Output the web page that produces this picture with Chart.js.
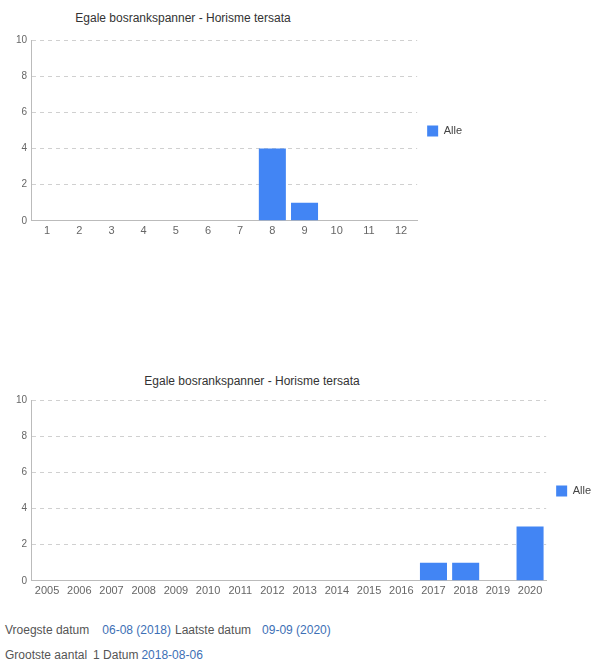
<!DOCTYPE html>
<html>
<head>
<meta charset="utf-8">
<script src="https://cdn.jsdelivr.net/npm/chart.js@4/dist/chart.umd.min.js"></script>
<style>
  body { margin: 0; background: #fff; font-family: "Liberation Sans", Arial, sans-serif; }
  #wrap { position: relative; width: 602px; height: 664px; overflow: hidden; }
  .box { position: absolute; left: 0; }
  .title { position: absolute; font-size: 12px; color: #333; white-space: nowrap; transform: translateX(-50%); }
  .info { position: absolute; left: 5px; font-size: 12px; color: #555; white-space: nowrap; }
  .info span { display: inline-block; }
  .info .v { color: #3d6fb5; }
</style>
</head>
<body>
<div id="wrap">
  <div class="title" id="title1" style="left:183px; top:11px;"></div>
  <div class="box" style="top:0; width:472px; height:248px;"><canvas id="monthChart"></canvas></div>
  <div class="title" id="title2" style="left:252px; top:374px;"></div>
  <div class="box" style="top:360px; width:601px; height:248px;"><canvas id="yearChart"></canvas></div>
  <div class="info" style="top:623px;"><span style="margin-right:13px">Vroegste datum</span><span class="v" style="margin-right:4px">06-08 (2018)</span><span style="margin-right:11px">Laatste datum</span><span class="v">09-09 (2020)</span></div>
  <div class="info" style="top:648px;"><span style="margin-right:6px">Grootste aantal</span><span style="margin-right:3px">1 Datum</span><span class="v">2018-08-06</span></div>
</div>
<script>
  const chartTitle = "Egale bosrankspanner - Horisme tersata";
  const seriesName = "Alle";

  // per maand
  const months = ["1", "2", "3", "4", "5", "6", "7", "8", "9", "10", "11", "12"];
  const monthCounts = [0, 0, 0, 0, 0, 0, 0, 4, 1, 0, 0, 0];

  // per jaar
  const years = ["2005", "2006", "2007", "2008", "2009", "2010", "2011", "2012",
                 "2013", "2014", "2015", "2016", "2017", "2018", "2019", "2020"];
  const yearCounts = [0, 0, 0, 0, 0, 0, 0, 0, 0, 0, 0, 0, 1, 1, 0, 3];

  const yTicks = [0, 2, 4, 6, 8, 10];

  const BAR_COLOR = "#4285f4";
  const GRID_COLOR = "#d0d0d0";
  const TEXT_COLOR = "#666";
  const FONT = "'Liberation Sans', Arial, sans-serif";

  document.getElementById("title1").textContent = chartTitle;
  document.getElementById("title2").textContent = chartTitle;

  const makeChart = (canvasId, labels, values, tickSize) => {
    const ctx = document.getElementById(canvasId).getContext("2d");
    return new Chart(ctx, {
      type: "bar",
      data: {
        labels: labels,
        datasets: [
          {
            label: seriesName,
            data: values,
            backgroundColor: BAR_COLOR,
            barPercentage: 0.84,
            categoryPercentage: 1.0,
          },
        ],
      },
      options: {
        responsive: true,
        maintainAspectRatio: false,
        animation: false,
        layout: { padding: { top: 40, left: 0, right: 0, bottom: 6 } },
        plugins: {
          title: { display: false },
          legend: {
            display: true,
            position: "right",
            // empty title only to nudge the legend item up a little
            title: { display: true, text: "", font: { size: 4 }, padding: { top: -25, bottom: 0 } },
            labels: {
              color: "#444",
              boxWidth: 11,
              boxHeight: 11,
              font: { family: FONT, size: 11 },
            },
          },
          tooltip: { enabled: false },
        },
        scales: {
          x: {
            grid: { display: false, drawTicks: false },
            border: { display: true, color: "#bbb" },
            ticks: {
              color: TEXT_COLOR,
              font: { family: FONT, size: tickSize },
              autoSkip: false,
              maxRotation: 0,
              padding: 4,
            },
          },
          y: {
            min: 0,
            max: 10,
            afterBuildTicks: (scale) => {
              scale.ticks = yTicks.map((v) => ({ value: v }));
            },
            afterFit: (scale) => {
              scale.width = 31;
            },
            grid: { color: GRID_COLOR, drawTicks: false },
            border: { display: true, color: "#bbb", dash: [4, 4] },
            ticks: {
              color: TEXT_COLOR,
              font: { family: FONT, size: 10 },
              padding: 4,
            },
          },
        },
      },
    });
  };

  makeChart("monthChart", months, monthCounts, 11);
  makeChart("yearChart", years, yearCounts, 11);
</script>
</body>
</html>
